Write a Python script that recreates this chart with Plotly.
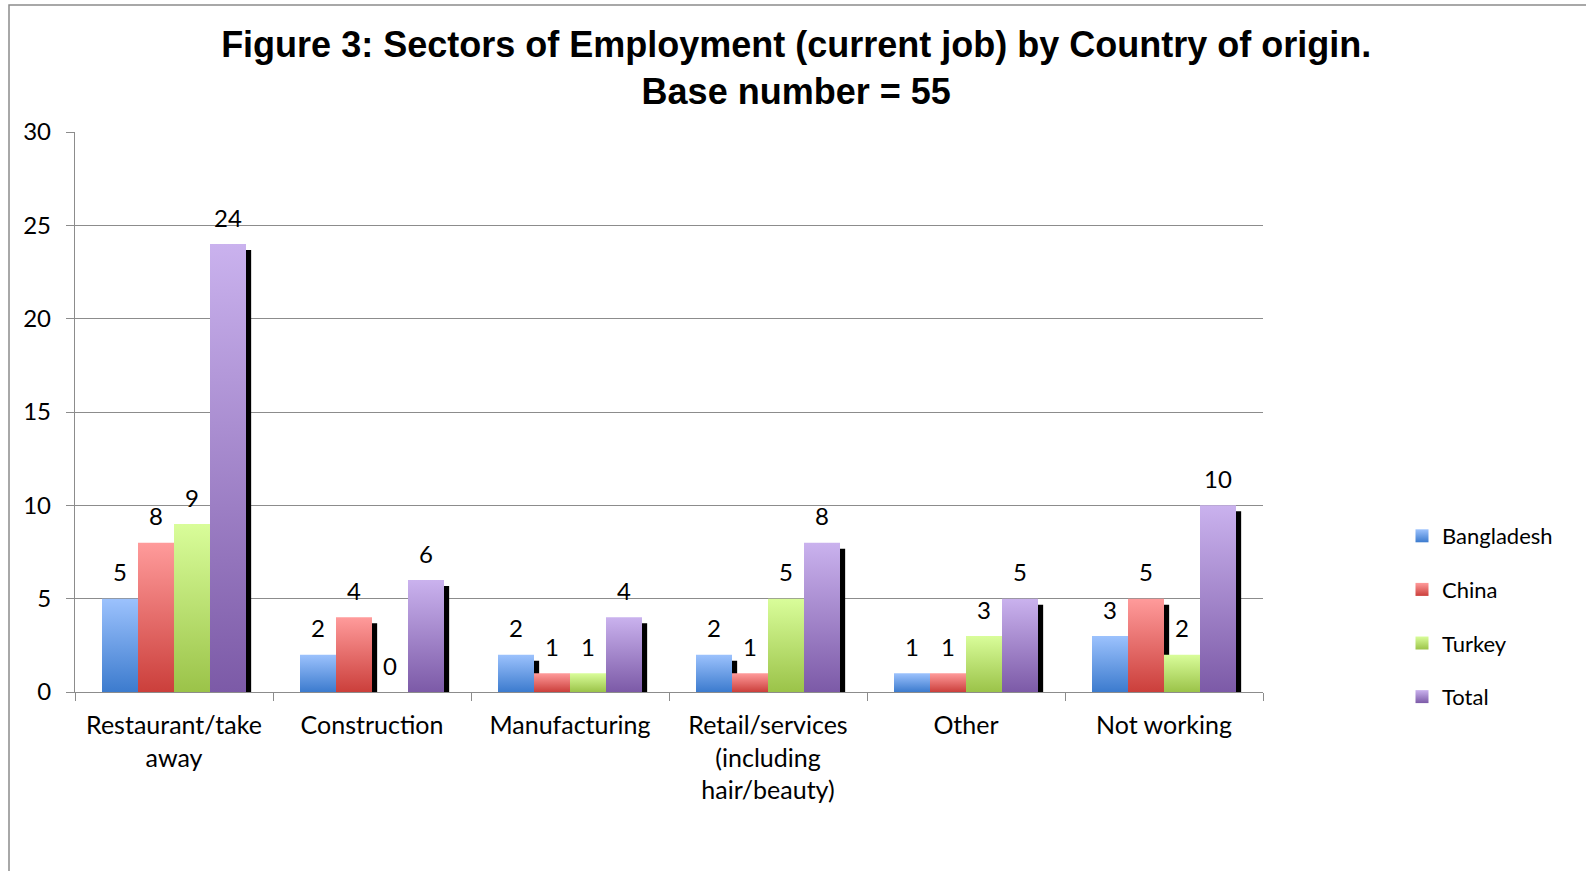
import plotly.graph_objects as go

# ---------------- data ----------------
categories = ["Restaurant/take<br>away", "Construction", "Manufacturing",
              "Retail/services<br>(including<br>hair/beauty)", "Other", "Not working"]
series_names = ["Bangladesh", "China", "Turkey", "Total"]
bangladesh = [5, 2, 2, 2, 1, 3]
china = [8, 4, 1, 1, 1, 5]
turkey = [9, 0, 1, 5, 3, 2]
total = [24, 6, 4, 8, 5, 10]
y_ticks = [0, 5, 10, 15, 20, 25, 30]
title_text = "Figure 3: Sectors of Employment (current job) by Country of origin.<br>Base number = 55"

# ---------------- style ----------------
series_values = [bangladesh, china, turkey, total]
top_colors = ["#9CC2FD", "#FF9B9B", "#D9FD9A", "#CAB2EE"]
bottom_colors = ["#3C7BCE", "#CB3F3B", "#9BC349", "#7C5AA7"]
n_series = len(series_names)
bar_w = 1 / (n_series + 1.5)          # Excel gap width 150%
shadow_dx = 0.026                      # shadow offset (category units)
shadow_dy = 0.32                       # shadow offset (value units)
grey = "#8C8C8C"
txt_font = "Lato, 'Open Sans', sans-serif"

fig = go.Figure()

def rect(x0, x1, y0, y1):
    return [x0, x1, x1, x0, x0], [y0, y0, y1, y1, y0]

# shadows first (behind every bar)
for j, vals in enumerate(series_values):
    for i, v in enumerate(vals):
        if v <= 0:
            continue
        left = i - n_series * bar_w / 2 + j * bar_w
        xs, ys = rect(left + shadow_dx, left + bar_w + shadow_dx, 0, max(v - shadow_dy, 0))
        fig.add_trace(go.Scatter(x=xs, y=ys, fill="toself", mode="lines",
                                 line=dict(width=0), fillcolor="#000000",
                                 hoverinfo="skip", showlegend=False))

# gradient bars
for j, vals in enumerate(series_values):
    for i, v in enumerate(vals):
        if v <= 0:
            continue
        left = i - n_series * bar_w / 2 + j * bar_w
        xs, ys = rect(left, left + bar_w, 0, v)
        fig.add_trace(go.Scatter(
            x=xs, y=ys, fill="toself", mode="lines", line=dict(width=0),
            fillgradient=dict(type="vertical",
                              colorscale=[[0, bottom_colors[j]], [1, top_colors[j]]]),
            name=series_names[j], hoverinfo="name+y", showlegend=False))

# legend entries
for j, name in enumerate(series_names):
    fig.add_trace(go.Scatter(
        x=[None], y=[None], mode="markers", name=name, legendgroup=name,
        xaxis="x2",
        marker=dict(symbol="square", size=13, color=top_colors[j],
                    gradient=dict(type="vertical", color=bottom_colors[j]),
                    line=dict(width=0))))

# data labels
annotations = []
for j, vals in enumerate(series_values):
    for i, v in enumerate(vals):
        cx = i - n_series * bar_w / 2 + (j + 0.5) * bar_w
        annotations.append(dict(x=cx, y=v, xref="x", yref="y", text=str(v),
                                showarrow=False, yanchor="middle", yshift=27,
                                font=dict(family=txt_font, size=24, color="#000000")))

L, R, T, B = 75, 323, 132, 179
W, H = 1586, 871
pw, ph = W - L - R, H - T - B

fig.update_layout(
    width=W, height=H,
    margin=dict(l=L, r=R, t=T, b=B, pad=0),
    paper_bgcolor="white", plot_bgcolor="white",
    title=dict(text=title_text, x=0.502, xanchor="center", xref="container",
               y=1 - 57 / H, yanchor="top", yref="container",
               font=dict(family="Arial, 'Liberation Sans', sans-serif", size=36, color="#000000", weight="bold")),
    xaxis=dict(range=[-0.5, len(categories) - 0.5], tickmode="array",
               tickvals=list(range(len(categories))), ticktext=categories,
               ticks="", showgrid=False, zeroline=False, showline=True,
               linecolor=grey, linewidth=1.3, ticklabelstandoff=11,
               tickfont=dict(family=txt_font, size=25, color="#000000")),
    xaxis2=dict(range=[-0.5, len(categories) - 0.5], overlaying="x", anchor="y",
                side="bottom", tickmode="array",
                tickvals=[k - 0.5 for k in range(len(categories) + 1)],
                ticks="outside", ticklen=8, tickcolor=grey, tickwidth=1.3,
                showticklabels=False, showgrid=False, zeroline=False, showline=False),
    yaxis=dict(range=[0, 30], tickmode="array", tickvals=y_ticks,
               showgrid=True, gridcolor=grey, gridwidth=1.3, zeroline=False,
               showline=True, linecolor=grey, linewidth=1.3,
               ticks="outside", ticklen=8, tickcolor=grey, tickwidth=1.3,
               ticklabelstandoff=10,
               tickfont=dict(family=txt_font, size=24, color="#000000")),
    legend=dict(x=(1402 - L) / pw, xanchor="left", y=(H - B - 515) / ph, yanchor="top",
                tracegroupgap=22, bgcolor="rgba(0,0,0,0)",
                font=dict(family=txt_font, size=22, color="#000000")),
    annotations=annotations,
    shapes=[dict(type="rect", xref="paper", yref="paper",
                 x0=(9 - L) / pw, x1=(W + 20 - L) / pw,
                 y0=(H - B - (H + 20)) / ph, y1=(H - B - 5) / ph,
                 line=dict(color=grey, width=1.5), fillcolor="rgba(0,0,0,0)", layer="below")],
    showlegend=True,
)

fig.write_html("out.html")
